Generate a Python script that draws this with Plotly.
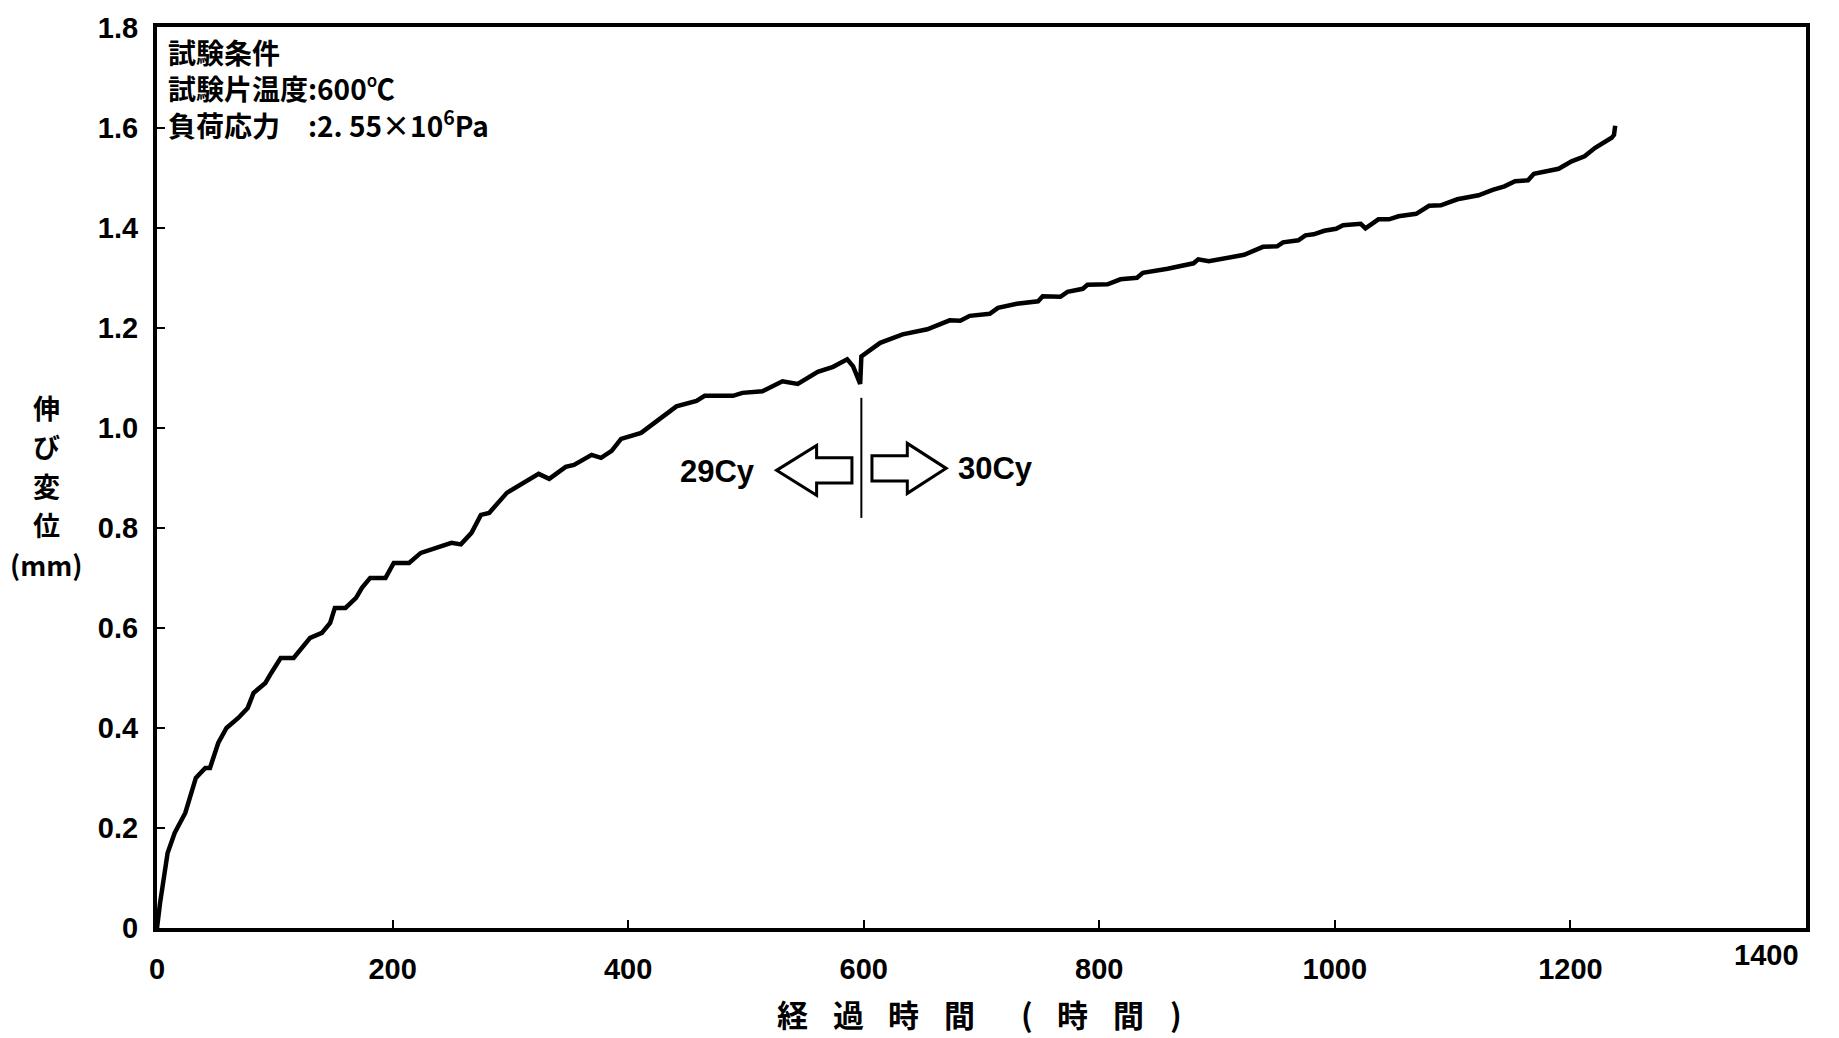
import plotly.graph_objects as go

# ---------------- data ----------------
hours = [0, 2.6, 9, 15, 24, 28, 33, 41, 45, 52, 59, 69, 77, 82, 92, 97, 105, 116, 123, 130,
         140, 147, 151, 160, 169, 174, 181, 194, 201, 214, 224, 237, 250, 258, 267, 275, 282,
         297, 309, 324, 333, 347, 354, 369, 377, 386, 394, 411, 424, 441, 458, 465, 489, 497,
         514, 531, 544, 561, 574, 586, 591, 597, 598, 614, 633, 654, 673, 682, 690, 707, 714,
         730, 748, 752, 767, 773, 786, 790, 807, 818, 832, 837, 858, 880, 884, 893, 923, 939,
         951, 956, 969, 975, 982, 991, 1001, 1007, 1022, 1026, 1037, 1046, 1054, 1069, 1080,
         1090, 1104, 1122, 1134, 1144, 1153, 1164, 1169, 1190, 1201, 1212, 1221, 1235, 1237,
         1238]
elongation = [0, 0.05, 0.15, 0.19, 0.23, 0.26, 0.30, 0.32, 0.32, 0.37, 0.40, 0.42, 0.44, 0.47,
              0.49, 0.51, 0.54, 0.54, 0.56, 0.58, 0.59, 0.61, 0.64, 0.64, 0.66, 0.68, 0.70,
              0.70, 0.73, 0.73, 0.75, 0.76, 0.77, 0.767, 0.79, 0.826, 0.83, 0.87, 0.888, 0.908,
              0.898, 0.922, 0.926, 0.946, 0.94, 0.954, 0.978, 0.99, 1.013, 1.043, 1.054, 1.064,
              1.064, 1.07, 1.073, 1.093, 1.088, 1.112, 1.122, 1.137, 1.123, 1.088, 1.143, 1.17,
              1.187, 1.197, 1.215, 1.214, 1.224, 1.228, 1.24, 1.248, 1.253, 1.263, 1.262, 1.272,
              1.278, 1.286, 1.287, 1.297, 1.30, 1.31, 1.318, 1.329, 1.337, 1.333, 1.346, 1.362,
              1.363, 1.371, 1.375, 1.385, 1.387, 1.394, 1.398, 1.405, 1.408, 1.399, 1.417, 1.417,
              1.423, 1.428, 1.444, 1.445, 1.457, 1.465, 1.476, 1.483, 1.493, 1.495, 1.508, 1.518,
              1.533, 1.543, 1.56, 1.58, 1.586, 1.604]

x_tick_vals = [0, 200, 400, 600, 800, 1000, 1200]
x_tick_text = ["0", "200", "400", "600", "800", "1000", "1200"]
x_last_tick = "1400"
y_tick_vals = [0, 0.2, 0.4, 0.6, 0.8, 1.0, 1.2, 1.4, 1.6, 1.8]
y_tick_text = ["0", "0.2", "0.4", "0.6", "0.8", "1.0", "1.2", "1.4", "1.6", "1.8"]

condition_lines = ["試験条件", "試験片温度:600℃", "負荷応力　:2. 55×10<sup>6</sup>Pa"]
y_title_chars = ["伸", "び", "変", "位", "(mm)"]
x_title_chars = ["経", "過", "時", "間", "(", "時", "間", ")"]

cycle_boundary = 598
cycle_labels = ["29Cy", "30Cy"]

# ---------------- figure ----------------
W, H = 1839, 1038
L, R, T, B = 157, 1806, 17, 928
LATIN = "'Liberation Sans', Arial, sans-serif"
CJK = "'Noto Sans CJK JP', sans-serif"


def paper(X, Y):
    return (X - L) / (R - L), (B - Y) / (B - T)


fig = go.Figure()
fig.add_trace(go.Scatter(x=hours, y=elongation, mode="lines",
                         line=dict(color="black", width=4.5), hoverinfo="skip",
                         showlegend=False))

axis_common = dict(showline=True, linecolor="black", linewidth=4, mirror=True,
                   ticks="inside", ticklen=8, tickwidth=2, tickcolor="black",
                   showgrid=False, zeroline=False,
                   tickfont=dict(family=LATIN, size=29, color="black", weight="bold"))

fig.update_layout(
    width=W, height=H,
    margin=dict(l=L, r=W - R, t=T, b=H - B, pad=0),
    paper_bgcolor="white", plot_bgcolor="white",
    xaxis=dict(range=[0, 1400], tickvals=x_tick_vals, ticktext=x_tick_text,
               ticklabelstandoff=12, **axis_common),
    yaxis=dict(range=[0, 1.8015], tickvals=y_tick_vals, ticktext=y_tick_text,
               ticklabelstandoff=9, **axis_common),
)

annotations = []

# last x tick label (shifted left in the original)
px_, py_ = paper(1801, 955)
annotations.append(dict(xref="paper", yref="paper", x=px_, y=py_, text=x_last_tick,
                        showarrow=False, xanchor="right", yanchor="middle",
                        font=dict(family=LATIN, size=29, color="black", weight="bold")))

# test conditions block
px_, py_ = paper(166, 20)
annotations.append(dict(xref="paper", yref="paper", x=px_, y=py_,
                        text="<br>".join(condition_lines), align="left",
                        showarrow=False, xanchor="left", yanchor="top",
                        font=dict(family=CJK, size=28, color="black", weight="bold")))

# y title (vertical stacked characters)
for i, ch in enumerate(y_title_chars):
    px_, py_ = paper(46, 402 + 39.5 * i)
    annotations.append(dict(xref="paper", yref="paper", x=px_, y=py_, text=ch,
                            showarrow=False, xanchor="center", yanchor="middle",
                            font=dict(family=CJK, size=27, color="black", weight="bold")))

# x title (spaced characters)
x_title_pos = [792, 848, 903, 959, 1027, 1072, 1128, 1176]
for ch, X in zip(x_title_chars, x_title_pos):
    px_, py_ = paper(X, 1014)
    annotations.append(dict(xref="paper", yref="paper", x=px_, y=py_, text=ch,
                            showarrow=False, xanchor="center", yanchor="middle",
                            font=dict(family=CJK, size=31, color="black", weight="bold")))

# cycle labels
annotations.append(dict(x=476, y=0.913, xref="x", yref="y", text=cycle_labels[0],
                        showarrow=False, xanchor="center", yanchor="middle",
                        font=dict(family=LATIN, size=31, color="black", weight="bold")))
annotations.append(dict(x=712, y=0.919, xref="x", yref="y", text=cycle_labels[1],
                        showarrow=False, xanchor="center", yanchor="middle",
                        font=dict(family=LATIN, size=31, color="black", weight="bold")))
fig.update_layout(annotations=annotations)

# boundary line
fig.add_shape(type="line", xref="x", yref="y", x0=cycle_boundary, x1=cycle_boundary,
              y0=0.82, y1=1.06, line=dict(color="black", width=2))


def arrow_path(tail, head_base, tip, yc, shaft_h, head_h):
    pts = [(tail, yc + shaft_h), (head_base, yc + shaft_h), (head_base, yc + head_h),
           (tip, yc), (head_base, yc - head_h), (head_base, yc - shaft_h), (tail, yc - shaft_h)]
    return "M " + " L ".join(f"{a},{b}" for a, b in pts) + " Z"


fig.add_shape(type="path", xref="x", yref="y",
              path=arrow_path(590, 560, 526, 0.915, 0.025, 0.05),
              line=dict(color="black", width=3), fillcolor="white")
fig.add_shape(type="path", xref="x", yref="y",
              path=arrow_path(607, 637, 670, 0.919, 0.025, 0.05),
              line=dict(color="black", width=3), fillcolor="white")

fig.write_html("out.html")
